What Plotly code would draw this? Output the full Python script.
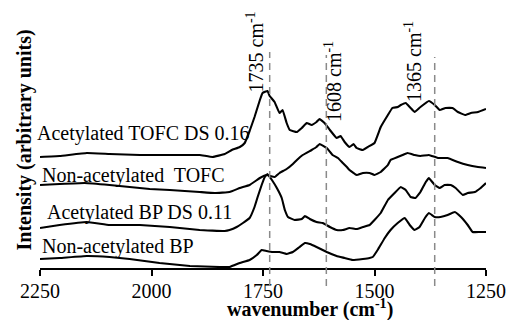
import plotly.graph_objects as go

# FTIR spectra (wavenumber in cm^-1, intensity in arbitrary units, offset stacked)
wn_ac_tofc = [2250, 2206, 2145, 2094, 2026, 1959, 1892, 1863, 1836, 1820, 1802, 1791, 1780, 1769,
              1757, 1751, 1740, 1735, 1724, 1713, 1706, 1697, 1690, 1674, 1663, 1652, 1641, 1630,
              1623, 1612, 1600, 1585, 1576, 1567, 1556, 1547, 1540, 1526, 1515, 1500, 1486, 1470,
              1460, 1448, 1441, 1430, 1419, 1410, 1397, 1378, 1365, 1354, 1341, 1325, 1313, 1297,
              1284, 1268, 1250]
int_ac_tofc = [1.11, 1.12, 1.15, 1.14, 1.13, 1.13, 1.13, 1.11, 1.14, 1.18, 1.21, 1.25, 1.37, 1.51,
               1.68, 1.75, 1.77, 1.72, 1.66, 1.55, 1.58, 1.45, 1.38, 1.36, 1.40, 1.45, 1.43, 1.46,
               1.49, 1.45, 1.38, 1.30, 1.32, 1.26, 1.21, 1.24, 1.20, 1.18, 1.21, 1.25, 1.41, 1.53,
               1.60, 1.61, 1.63, 1.65, 1.60, 1.56, 1.61, 1.67, 1.63, 1.58, 1.60, 1.60, 1.56, 1.53,
               1.55, 1.56, 1.59]

wn_tofc = [2250, 2206, 2150, 2094, 2049, 2004, 1959, 1892, 1858, 1825, 1802, 1780, 1757, 1742,
           1724, 1713, 1697, 1683, 1674, 1661, 1641, 1630, 1623, 1607, 1594, 1582, 1571, 1562,
           1556, 1540, 1526, 1511, 1500, 1486, 1470, 1464, 1448, 1437, 1426, 1410, 1397, 1378,
           1358, 1336, 1313, 1291, 1268, 1250]
int_tofc = [0.83, 0.84, 0.85, 0.83, 0.81, 0.79, 0.78, 0.76, 0.75, 0.76, 0.80, 0.83, 0.90, 0.93,
            0.91, 0.95, 0.99, 1.04, 1.08, 1.13, 1.18, 1.21, 1.24, 1.20, 1.13, 1.10, 1.05, 1.01,
            0.98, 0.93, 0.95, 0.95, 0.93, 0.96, 1.03, 1.08, 1.11, 1.13, 1.15, 1.13, 1.12, 1.13,
            1.10, 1.10, 1.06, 1.03, 1.01, 1.00]

wn_ac_bp = [2250, 2206, 2145, 2094, 2026, 1959, 1892, 1836, 1825, 1809, 1795, 1780, 1769, 1762,
            1753, 1746, 1740, 1730, 1719, 1708, 1701, 1694, 1679, 1663, 1656, 1645, 1630, 1616,
            1600, 1585, 1571, 1556, 1540, 1526, 1511, 1500, 1486, 1470, 1455, 1441, 1430, 1419,
            1408, 1397, 1385, 1378, 1365, 1354, 1343, 1329, 1318, 1302, 1291, 1275, 1262, 1250]
int_ac_bp = [0.40, 0.43, 0.46, 0.43, 0.43, 0.41, 0.38, 0.37, 0.38, 0.41, 0.45, 0.50, 0.61, 0.71,
             0.83, 0.91, 0.94, 0.88, 0.80, 0.70, 0.58, 0.51, 0.48, 0.49, 0.52, 0.49, 0.46, 0.45,
             0.41, 0.38, 0.38, 0.40, 0.39, 0.41, 0.43, 0.48, 0.55, 0.68, 0.75, 0.81, 0.78, 0.71,
             0.70, 0.76, 0.86, 0.90, 0.83, 0.80, 0.83, 0.83, 0.80, 0.73, 0.75, 0.76, 0.80, 0.85]

wn_bp = [2250, 2206, 2145, 2094, 2049, 1982, 1914, 1847, 1825, 1802, 1780, 1764, 1753, 1742,
         1728, 1713, 1697, 1683, 1668, 1656, 1645, 1630, 1607, 1585, 1567, 1549, 1526, 1511,
         1504, 1493, 1477, 1464, 1448, 1432, 1421, 1410, 1399, 1387, 1378, 1365, 1352, 1336,
         1320, 1306, 1291, 1280, 1264, 1250]
int_bp = [0.09, 0.10, 0.12, 0.11, 0.09, 0.05, 0.02, 0.01, 0.01, 0.05, 0.08, 0.13, 0.18, 0.17,
          0.16, 0.16, 0.14, 0.16, 0.21, 0.25, 0.24, 0.21, 0.16, 0.12, 0.10, 0.08, 0.09, 0.10,
          0.11, 0.18, 0.30, 0.38, 0.45, 0.50, 0.43, 0.38, 0.41, 0.50, 0.55, 0.51, 0.51, 0.53,
          0.56, 0.51, 0.43, 0.36, 0.36, 0.36]

series_names = ["Acetylated TOFC DS 0.16", "Non-acetylated  TOFC",
                "Acetylated BP DS 0.11", "Non-acetylated BP"]

band_positions = [1735, 1608, 1365]
x_ticks = [2250, 2000, 1750, 1500, 1250]

# Layout geometry (pixels)
W, H = 508, 320
ML, MR, MT, MB = 40, 22, 0, 52
PW, PH = W - ML - MR, H - MT - MB
FONT = "Liberation Serif"


def paper(px, py):
    """Convert a page pixel position to paper coordinates."""
    return (px - ML) / PW, (H - MB - py) / PH


fig = go.Figure()
for wn, inten, name in [(wn_ac_tofc, int_ac_tofc, series_names[0]),
                        (wn_tofc, int_tofc, series_names[1]),
                        (wn_ac_bp, int_ac_bp, series_names[2]),
                        (wn_bp, int_bp, series_names[3])]:
    fig.add_trace(go.Scatter(x=wn, y=inten, mode="lines", name=name,
                             line=dict(color="black", width=2.1, shape="spline", smoothing=0.25),
                             showlegend=False, hoverinfo="skip"))

# Dashed markers at the characteristic bands, with rotated labels
band_tops = [52, 55, 57]
band_label_centers = [(254.5, 52), (333.5, 81.5), (413.5, 61.5)]
for wn_b, top, (lx, ly) in zip(band_positions, band_tops, band_label_centers):
    fig.add_shape(type="line", xref="x", yref="paper", x0=wn_b, x1=wn_b,
                  y0=paper(0, 286)[1], y1=paper(0, top)[1],
                  line=dict(color="#8a8a8a", width=1.5, dash="7px,5px"))
    ax_, ay_ = paper(lx, ly)
    fig.add_annotation(xref="paper", yref="paper", x=ax_, y=ay_,
                       text=f"{wn_b} cm<sup>-1</sup>", textangle=-90, showarrow=False,
                       xanchor="center", yanchor="middle",
                       font=dict(family=FONT, size=20, color="black"))

# Series labels
label_pos = [(35, 133), (40, 175), (45, 212), (40, 247)]
for name, (lx, ly) in zip(series_names, label_pos):
    ax_, ay_ = paper(lx, ly)
    fig.add_annotation(xref="paper", yref="paper", x=ax_, y=ay_, text=name,
                       showarrow=False, xanchor="left", yanchor="middle",
                       font=dict(family=FONT, size=20, color="black"))

# Axis titles
tx, ty = paper(309.5, 308)
fig.add_annotation(xref="paper", yref="paper", x=tx, y=ty,
                   text="<b>wavenumber (cm<sup>-1</sup>)</b>", showarrow=False,
                   xanchor="center", yanchor="middle",
                   font=dict(family=FONT, size=20, color="black"))
yx, yy = paper(23.5, 140)
fig.add_annotation(xref="paper", yref="paper", x=yx, y=yy,
                   text="<b>Intensity (arbitrary units)</b>", showarrow=False,
                   textangle=-90, xanchor="center", yanchor="middle",
                   font=dict(family=FONT, size=20, color="black"))

fig.update_layout(
    width=W, height=H,
    margin=dict(l=ML, r=MR, t=MT, b=MB, pad=0),
    paper_bgcolor="white", plot_bgcolor="white",
    xaxis=dict(range=[2250, 1250], tickvals=x_ticks, ticktext=[str(v) for v in x_ticks],
               ticks="outside", ticklen=6, tickwidth=2, tickcolor="black",
               ticklabelstandoff=-2,
               showline=True, linewidth=2, linecolor="black",
               showgrid=False, zeroline=False,
               tickfont=dict(family=FONT, size=20, color="black")),
    yaxis=dict(range=[0, PH / 100], showline=False, showticklabels=False,
               showgrid=False, zeroline=False, ticks=""),
)

fig.write_html("out.html")
